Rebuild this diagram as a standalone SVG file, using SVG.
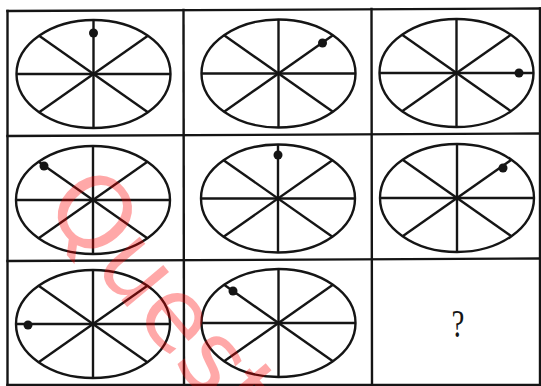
<svg xmlns="http://www.w3.org/2000/svg" xmlns:xlink="http://www.w3.org/1999/xlink" width="541" height="386" viewBox="0 0 541 386">
<style>
.grid{stroke:#151515;stroke-width:2.4;fill:none;stroke-linecap:square}
.wh{stroke:#151515;stroke-width:2.4;fill:none}
.dot{fill:#151515}
.q{font-family:"Liberation Serif","Times New Roman",serif;font-size:34px;fill:#151515;text-anchor:middle}
.wm{font-family:"DejaVu Sans",sans-serif;font-size:100px;fill:#ff0000;fill-opacity:0.34}
</style>
<defs>
<g id="wheel">
<ellipse class="wh" cx="0" cy="0" rx="77" ry="54"/>
<line class="wh" x1="-77" y1="0" x2="77" y2="0"/>
<line class="wh" x1="0" y1="-54" x2="0" y2="54"/>
<line class="wh" x1="-54.4" y1="-38.2" x2="54.4" y2="38.2"/>
<line class="wh" x1="-54.4" y1="38.2" x2="54.4" y2="-38.2"/>
</g>
</defs>
<rect width="541" height="386" fill="#ffffff"/>
<g id="grid">
<line class="grid" x1="7.5" y1="11" x2="540" y2="8.5"/>
<line class="grid" x1="7.5" y1="136" x2="540" y2="133.5"/>
<line class="grid" x1="7.5" y1="261" x2="540" y2="258.5"/>
<line class="grid" x1="7.5" y1="385" x2="540" y2="385"/>
<line class="grid" x1="7.5" y1="11" x2="7.5" y2="385"/>
<line class="grid" x1="183.5" y1="10" x2="184" y2="385"/>
<line class="grid" x1="371.5" y1="9" x2="372" y2="385"/>
<line class="grid" x1="540" y1="8.5" x2="540" y2="385" stroke-width="1.2"/>
</g>
<g id="cell1"><use xlink:href="#wheel" href="#wheel" transform="translate(93.5,74)"/><circle class="dot" cx="93.5" cy="33" r="4.5"/></g>
<g id="cell2"><use xlink:href="#wheel" href="#wheel" transform="translate(278.5,73.5)"/><circle class="dot" cx="322.5" cy="43" r="4.5"/></g>
<g id="cell3"><use xlink:href="#wheel" href="#wheel" transform="translate(456.5,73)"/><circle class="dot" cx="519" cy="73" r="4.5"/></g>
<g id="cell4"><use xlink:href="#wheel" href="#wheel" transform="translate(93,200)"/><circle class="dot" cx="44" cy="166" r="4.5"/></g>
<g id="cell5"><use xlink:href="#wheel" href="#wheel" transform="translate(278,198.5)"/><circle class="dot" cx="278" cy="155" r="4.5"/></g>
<g id="cell6"><use xlink:href="#wheel" href="#wheel" transform="translate(457,198)"/><circle class="dot" cx="503" cy="168" r="4.5"/></g>
<g id="cell7"><use xlink:href="#wheel" href="#wheel" transform="translate(93,324)"/><circle class="dot" cx="28" cy="325" r="4.5"/></g>
<g id="cell8"><use xlink:href="#wheel" href="#wheel" transform="translate(278.5,323)"/><circle class="dot" cx="233" cy="291" r="4.5"/></g>
<g id="cell9"><text class="q" transform="translate(458,337) scale(0.85,1.15)">?</text></g>
<text class="wm" transform="translate(41.7,205.3) rotate(50)">Quest</text>
</svg>
